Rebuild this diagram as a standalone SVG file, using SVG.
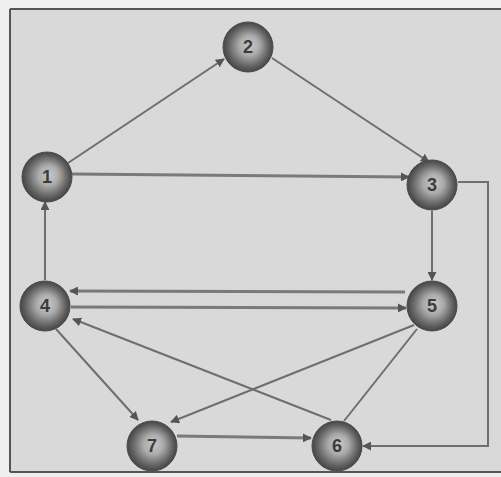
<svg xmlns="http://www.w3.org/2000/svg" width="501" height="477" viewBox="0 0 501 477">
<defs>
<radialGradient id="ball" cx="50%" cy="50%" r="50%" fx="55%" fy="45%">
<stop offset="0" stop-color="#c8c8c8"/>
<stop offset="0.4" stop-color="#ababab"/>
<stop offset="0.78" stop-color="#666"/>
<stop offset="1" stop-color="#454545"/>
</radialGradient>
<marker id="arr" viewBox="0 0 10 10" refX="9" refY="5" markerWidth="9" markerHeight="9" markerUnits="userSpaceOnUse" orient="auto">
<path d="M0,0 L10,5 L0,10 z" fill="#555"/>
</marker>
</defs>
<style>
.edge{fill:none;stroke:#6e6e6e;stroke-width:2}
.thick{fill:none;stroke:#7a7a7a;stroke-width:3}
.node circle{fill:url(#ball);stroke:#4a4a4a;stroke-width:1}
.node text{font-family:"Liberation Sans",Arial,sans-serif;font-weight:bold;font-size:18px;fill:#3c3c3c;text-anchor:middle}
</style>
<rect x="0" y="0" width="501" height="477" fill="#efefef"/>
<rect x="10" y="9" width="491" height="463" fill="#d9d9d9"/>
<path d="M10,9 H501 M10,9 V472 M10,472 H501" fill="none" stroke="#555" stroke-width="2"/>
<g id="connectors">
<line class="edge" x1="68" y1="163" x2="224" y2="59" marker-end="url(#arr)"/>
<line class="edge" x1="272" y1="58" x2="429" y2="162" marker-end="url(#arr)"/>
<line class="thick" x1="72" y1="174" x2="409" y2="177" marker-end="url(#arr)"/>
<line class="edge" x1="432" y1="211" x2="432" y2="280" marker-end="url(#arr)"/>
<line class="edge" x1="45" y1="280" x2="45" y2="202" marker-end="url(#arr)"/>
<line class="thick" x1="405" y1="292" x2="70" y2="291" marker-end="url(#arr)"/>
<line class="thick" x1="71" y1="307" x2="406" y2="308" marker-end="url(#arr)"/>
<line class="edge" x1="56" y1="329" x2="138" y2="420" marker-end="url(#arr)"/>
<line class="edge" x1="414" y1="325" x2="171" y2="422" marker-end="url(#arr)"/>
<line class="edge" x1="331" y1="420" x2="73" y2="319" marker-end="url(#arr)"/>
<line class="edge" x1="344" y1="421" x2="417" y2="329"/>
<line class="thick" x1="177" y1="436" x2="311" y2="438" marker-end="url(#arr)"/>
<path class="edge" d="M458,182 H488 V446 H363" marker-end="url(#arr)"/>
</g>
<g id="node1" class="node"><circle cx="47" cy="177" r="25"/><text x="47" y="183">1</text></g>
<g id="node2" class="node"><circle cx="248" cy="47" r="25"/><text x="248" y="53">2</text></g>
<g id="node3" class="node"><circle cx="432" cy="185" r="25"/><text x="432" y="191">3</text></g>
<g id="node4" class="node"><circle cx="45" cy="306" r="25"/><text x="45" y="312">4</text></g>
<g id="node5" class="node"><circle cx="432" cy="306" r="25"/><text x="432" y="312">5</text></g>
<g id="node6" class="node"><circle cx="337" cy="446" r="25"/><text x="337" y="452">6</text></g>
<g id="node7" class="node"><circle cx="152" cy="446" r="25"/><text x="152" y="452">7</text></g>
</svg>
